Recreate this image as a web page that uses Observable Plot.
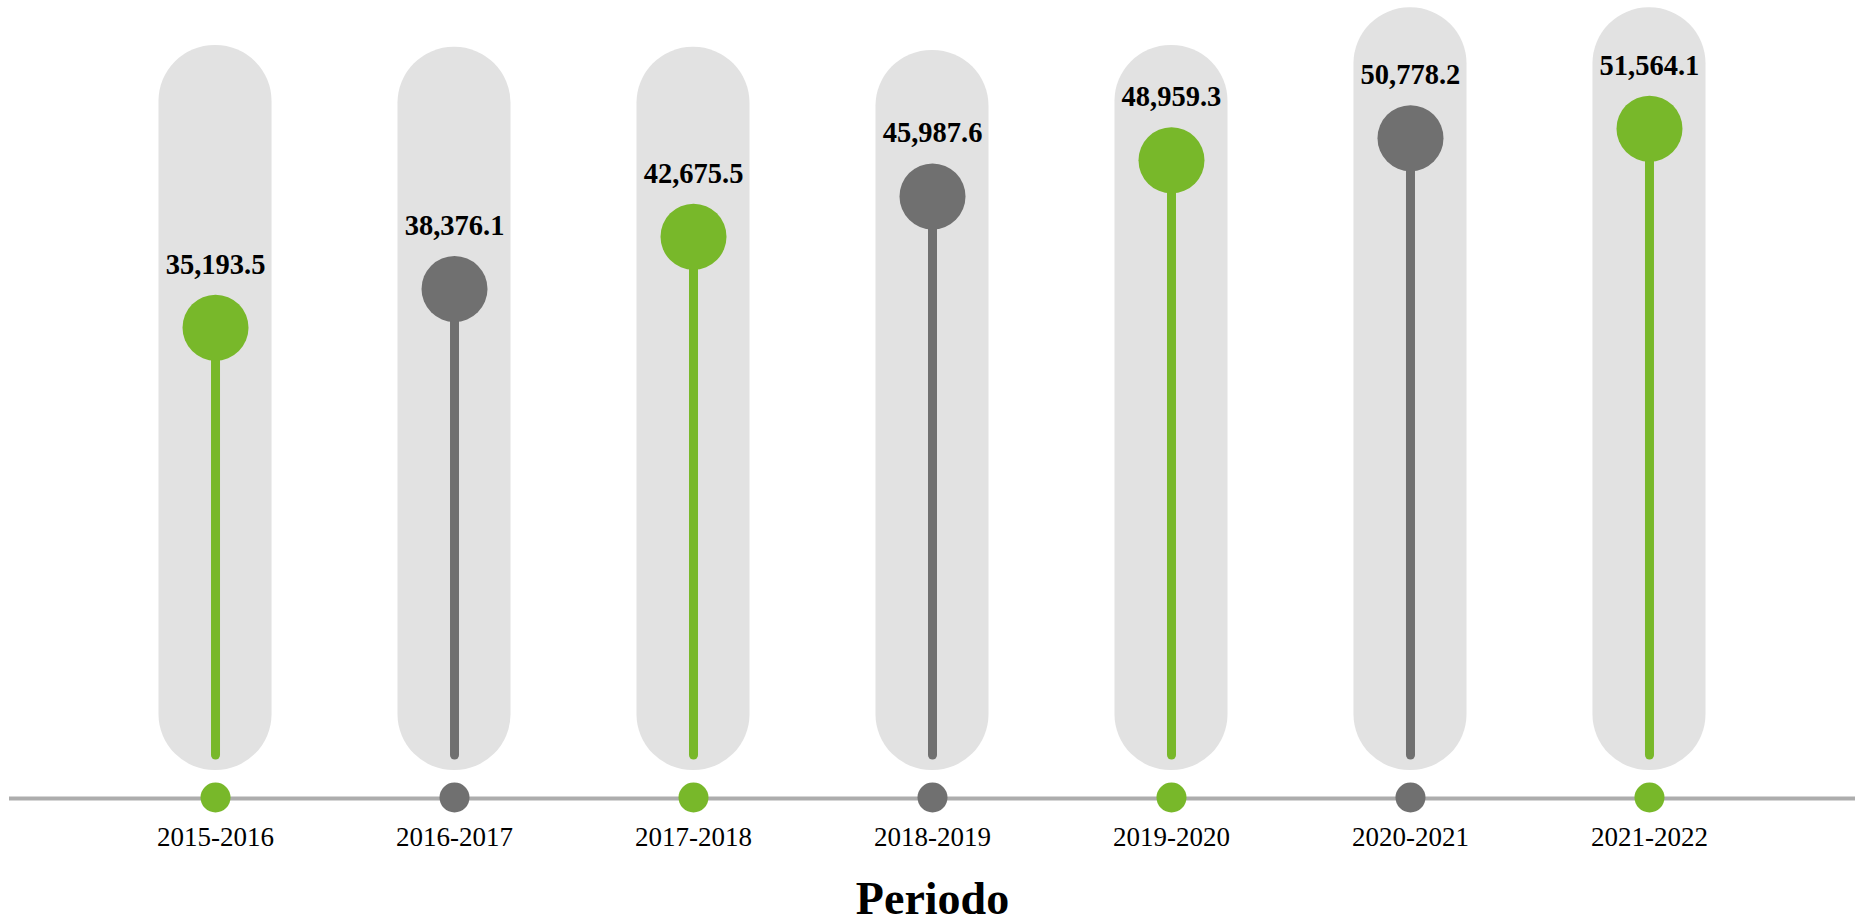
<!DOCTYPE html>
<html>
<head>
<meta charset="utf-8">
<script src="https://cdn.jsdelivr.net/npm/d3@7"></script>
<script src="https://cdn.jsdelivr.net/npm/@observablehq/plot@0.6"></script>
<style>
  html, body { margin: 0; padding: 0; background: #fff; }
</style>
</head>
<body>
<div id="chart"></div>
<script>
const periods = ["2015-2016", "2016-2017", "2017-2018", "2018-2019", "2019-2020", "2020-2021", "2021-2022"];
const values = [35193.5, 38376.1, 42675.5, 45987.6, 48959.3, 50778.2, 51564.1];
const backgroundTop = [58400, 58250, 58250, 58000, 58400, 61500, 61500];
const palette = ["#78b82a", "#707070"];

const data = periods.map((p, i) => ({
  period: p,
  value: values[i],
  bgTop: backgroundTop[i],
  color: palette[i % 2]
}));

const fmt = d3.format(",.1f");
const font = "'Liberation Serif', 'DejaVu Serif', serif";

const chart = Plot.plot({
  width: 1855,
  height: 922,
  marginLeft: 9,
  marginRight: 0,
  marginTop: 25.6,
  marginBottom: 167,
  style: { fontFamily: font, color: "#000", background: "#fff" },
  x: { type: "band", domain: periods, paddingInner: 0.527, paddingOuter: 0.6255, round: false, label: null },
  y: { domain: [0, 60000], axis: null },
  marks: [
    Plot.barY(data, { x: "period", y1: 0, y2: "bgTop", fill: "#e2e2e2", rx: 56, insetBottom: -15 }),
    Plot.ruleY([0], { dy: 43, stroke: "#adadad", strokeWidth: 4 }),
    Plot.dot(data, { x: "period", y: 0, dy: 42, r: 15, fill: "color", stroke: null }),
    Plot.ruleX(data, { x: "period", y1: 0, y2: "value", stroke: "color", strokeWidth: 9, strokeLinecap: "round", insetBottom: -5.5 }),
    Plot.dot(data, { x: "period", y: "value", r: 33, fill: "color", stroke: null }),
    Plot.text(data, { x: "period", y: "value", text: d => fmt(d.value), dy: -54, lineAnchor: "bottom", fontSize: 28.5, fontWeight: "bold", fill: "#000" }),
    Plot.axisX({ tickSize: 0, tickPadding: 71, fontSize: 27, label: null, fill: "#000" }),
    Plot.text(["Periodo"], { frameAnchor: "bottom", dy: 158, lineAnchor: "bottom", fontSize: 46, fontWeight: "bold", fill: "#000" })
  ]
});

document.getElementById("chart").appendChild(chart);
</script>
</body>
</html>
